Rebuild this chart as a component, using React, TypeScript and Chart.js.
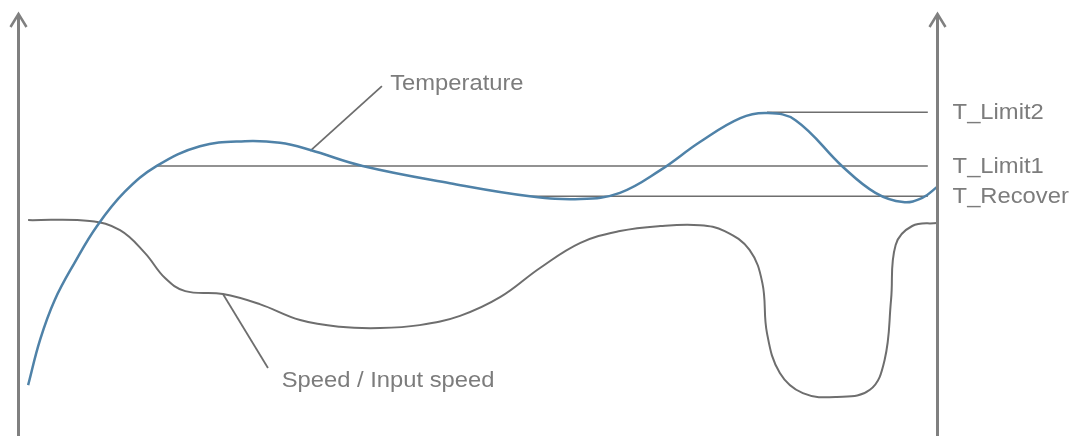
import React, { useEffect, useRef } from "react";
import { Chart, registerables } from "chart.js";

Chart.register(...registerables);

// Time axis 0..100 (left axis to right axis), value axis 0..100
const tempTime = [1.1, 2.4, 4.0, 6.2, 8.6, 11.6, 15.1, 19.8, 24.7, 28.5, 31.8, 37.5, 47.0, 55.7, 61.2, 65.5, 69.9, 74.2, 78.6, 81.5, 84.6, 89.8, 93.3, 96.3, 98.4, 100];
const tempValue = [12.1, 22.9, 32.4, 41.4, 50.0, 58.1, 64.3, 69.0, 70.2, 69.8, 68.1, 64.3, 60.2, 57.1, 56.4, 57.9, 63.3, 70.0, 75.7, 76.9, 75.2, 64.0, 57.9, 55.7, 56.7, 59.3];

const speedTime = [1.1, 7.8, 11.1, 13.8, 16.0, 18.2, 22.3, 26.3, 30.7, 35.0, 39.4, 43.7, 48.1, 52.5, 56.8, 61.2, 65.5, 69.9, 74.2, 76.9, 79.6, 81.0, 81.5, 82.9, 85.4, 89.1, 92.7, 94.3, 95.0, 95.5, 97.3, 100];
const speedValue = [51.4, 51.2, 49.0, 43.6, 37.6, 34.5, 33.8, 31.4, 27.6, 26.0, 25.7, 26.4, 28.6, 33.1, 40.0, 46.0, 48.8, 50.0, 50.2, 48.8, 44.3, 36.4, 24.5, 15.0, 10.2, 9.3, 11.0, 18.1, 32.4, 45.5, 50.0, 50.7];

const limitNames = ["T_Limit2", "T_Limit1", "T_Recover"];
const limitValues = [77.1, 64.3, 57.1];
const limitStart = [81.5, 15.1, 55.7];
const limitEnd = 99.0;

const tempLabel = "Temperature";
const tempLeaderTime = [31.8, 39.6];
const tempLeaderValue = [67.9, 83.3];
const speedLabel = "Speed / Input speed";
const speedLeaderTime = [22.3, 27.2];
const speedLeaderValue = [33.8, 16.2];

const axisTimes = [0, 100];

const zip = (xs: number[], ys: number[]) => xs.map((x, i) => ({ x, y: ys[i] }));

const GRAY_LINE = "#6e6e6e";
const TEXT = "#7c7c7c";
const AXIS = "#808080";
const BLUE = "#4f82a8";

const overlay = {
  id: "overlay",
  afterDatasetsDraw(chart: any) {
    const { ctx, scales } = chart;
    const xs = scales.x;
    const ys = scales.y;
    ctx.save();
    ctx.strokeStyle = AXIS;
    ctx.lineCap = "butt";
    axisTimes.forEach((t) => {
      const px = Math.round(xs.getPixelForValue(t)) + 0.5;
      ctx.lineWidth = 3;
      ctx.beginPath();
      ctx.moveTo(px, 14);
      ctx.lineTo(px, chart.height);
      ctx.stroke();
      ctx.beginPath();
      ctx.lineWidth = 2.5;
      ctx.moveTo(px - 8, 27);
      ctx.lineTo(px, 14);
      ctx.lineTo(px + 8, 27);
      ctx.stroke();
    });
    ctx.fillStyle = TEXT;
    ctx.textBaseline = "alphabetic";
    ctx.textAlign = "left";
    const drawText = (text: string, x: number, baseline: number) => {
      ctx.save();
      ctx.translate(x, baseline);
      ctx.scale(1.08, 1);
      ctx.font = "22px 'Liberation Sans', Arial, sans-serif";
      ctx.fillText(text, 0, 0);
      ctx.restore();
    };
    limitNames.forEach((name, i) => {
      const py = ys.getPixelForValue(limitValues[i]);
      drawText(name, xs.getPixelForValue(101.7), py + 7);
    });
    drawText(tempLabel, xs.getPixelForValue(40.5), ys.getPixelForValue(tempLeaderValue[1]) + 4);
    drawText(speedLabel, xs.getPixelForValue(28.7), ys.getPixelForValue(speedLeaderValue[1]) + 19);
    ctx.restore();
  },
};

export default function App() {
  const ref = useRef<HTMLCanvasElement | null>(null);
  useEffect(() => {
    if (!ref.current) return;
    const datasets: any[] = [
      {
        label: "Temperature",
        data: zip(tempTime, tempValue),
        borderColor: BLUE,
        borderWidth: 2.5,
        tension: 0.4,
        pointRadius: 0,
        clip: false,
      },
      {
        label: "Speed",
        data: zip(speedTime, speedValue),
        borderColor: GRAY_LINE,
        borderWidth: 2,
        tension: 0.4,
        pointRadius: 0,
        clip: false,
      },
    ];
    limitNames.forEach((name, i) => {
      datasets.push({
        label: name,
        data: [
          { x: limitStart[i], y: limitValues[i] },
          { x: limitEnd, y: limitValues[i] },
        ],
        borderColor: GRAY_LINE,
        borderWidth: 1.5,
        pointRadius: 0,
        clip: false,
      });
    });
    datasets.push({
      label: "tempLeader",
      data: zip(tempLeaderTime, tempLeaderValue),
      borderColor: GRAY_LINE,
      borderWidth: 1.8,
      pointRadius: 0,
      clip: false,
    });
    datasets.push({
      label: "speedLeader",
      data: zip(speedLeaderTime, speedLeaderValue),
      borderColor: GRAY_LINE,
      borderWidth: 1.8,
      pointRadius: 0,
      clip: false,
    });
    const chart = new Chart(ref.current, {
      type: "line",
      data: { datasets },
      options: {
        animation: false,
        responsive: false,
        maintainAspectRatio: false,
        layout: { padding: { left: 18, right: 141, top: 16, bottom: 0 } },
        scales: {
          x: { type: "linear", min: 0, max: 100, display: false },
          y: { type: "linear", min: 0, max: 100, display: false },
        },
        plugins: { legend: { display: false }, tooltip: { enabled: false } },
      },
      plugins: [overlay],
    });
    return () => chart.destroy();
  }, []);
  return (
    <div style={{ position: "fixed", left: 0, top: 0, width: 1078, height: 436, background: "#fff" }}>
      <canvas ref={ref} width={1078} height={436} />
    </div>
  );
}
